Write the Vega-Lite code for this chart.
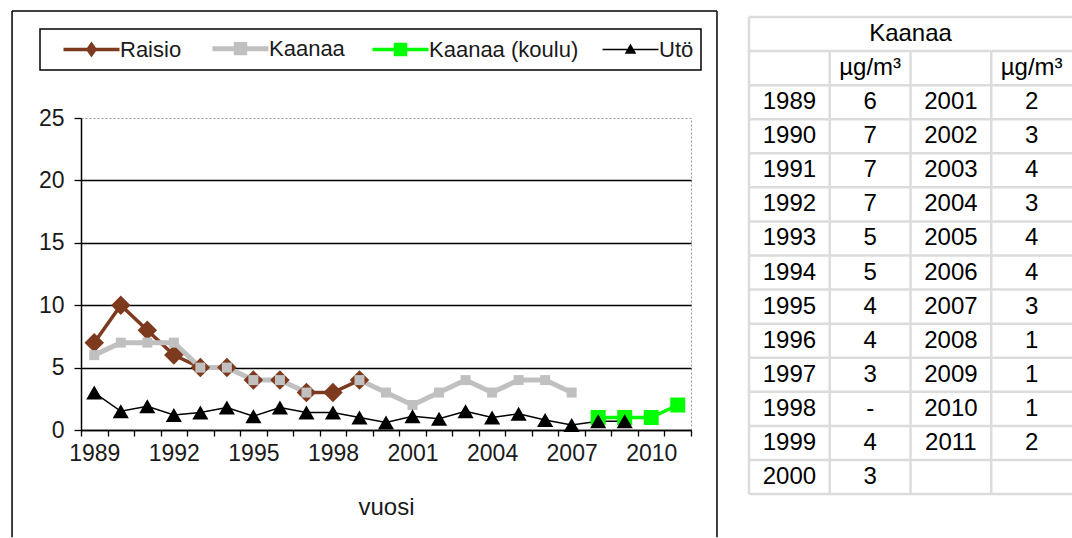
{
  "$schema": "https://vega.github.io/schema/vega-lite/v6.json",
  "padding": {"left": 10, "top": 9, "right": 0, "bottom": 0},
  "background": "white",
  "spacing": 28,
  "config": {
    "font": "Liberation Sans",
    "view": {"stroke": null}
  },
  "datasets": {
    "series": [
      {"year": 1989, "series": "Raisio", "value": 7},
      {"year": 1990, "series": "Raisio", "value": 10},
      {"year": 1991, "series": "Raisio", "value": 8},
      {"year": 1992, "series": "Raisio", "value": 6},
      {"year": 1993, "series": "Raisio", "value": 5},
      {"year": 1994, "series": "Raisio", "value": 5},
      {"year": 1995, "series": "Raisio", "value": 4},
      {"year": 1996, "series": "Raisio", "value": 4},
      {"year": 1997, "series": "Raisio", "value": 3},
      {"year": 1998, "series": "Raisio", "value": 3},
      {"year": 1999, "series": "Raisio", "value": 4},
      {"year": 1989, "series": "Kaanaa", "value": 6},
      {"year": 1990, "series": "Kaanaa", "value": 7},
      {"year": 1991, "series": "Kaanaa", "value": 7},
      {"year": 1992, "series": "Kaanaa", "value": 7},
      {"year": 1993, "series": "Kaanaa", "value": 5},
      {"year": 1994, "series": "Kaanaa", "value": 5},
      {"year": 1995, "series": "Kaanaa", "value": 4},
      {"year": 1996, "series": "Kaanaa", "value": 4},
      {"year": 1997, "series": "Kaanaa", "value": 3},
      {"year": 1998, "series": "Kaanaa", "value": null},
      {"year": 1999, "series": "Kaanaa", "value": 4},
      {"year": 2000, "series": "Kaanaa", "value": 3},
      {"year": 2001, "series": "Kaanaa", "value": 2},
      {"year": 2002, "series": "Kaanaa", "value": 3},
      {"year": 2003, "series": "Kaanaa", "value": 4},
      {"year": 2004, "series": "Kaanaa", "value": 3},
      {"year": 2005, "series": "Kaanaa", "value": 4},
      {"year": 2006, "series": "Kaanaa", "value": 4},
      {"year": 2007, "series": "Kaanaa", "value": 3},
      {"year": 2008, "series": "Kaanaa (koulu)", "value": 1},
      {"year": 2009, "series": "Kaanaa (koulu)", "value": 1},
      {"year": 2010, "series": "Kaanaa (koulu)", "value": 1},
      {"year": 2011, "series": "Kaanaa (koulu)", "value": 2},
      {"year": 1989, "series": "Utö", "value": 3.0},
      {"year": 1990, "series": "Utö", "value": 1.5},
      {"year": 1991, "series": "Utö", "value": 1.9},
      {"year": 1992, "series": "Utö", "value": 1.2},
      {"year": 1993, "series": "Utö", "value": 1.4},
      {"year": 1994, "series": "Utö", "value": 1.8},
      {"year": 1995, "series": "Utö", "value": 1.1},
      {"year": 1996, "series": "Utö", "value": 1.8},
      {"year": 1997, "series": "Utö", "value": 1.4},
      {"year": 1998, "series": "Utö", "value": 1.4},
      {"year": 1999, "series": "Utö", "value": 1.0},
      {"year": 2000, "series": "Utö", "value": 0.6},
      {"year": 2001, "series": "Utö", "value": 1.1},
      {"year": 2002, "series": "Utö", "value": 0.9},
      {"year": 2003, "series": "Utö", "value": 1.5},
      {"year": 2004, "series": "Utö", "value": 1.0},
      {"year": 2005, "series": "Utö", "value": 1.3},
      {"year": 2006, "series": "Utö", "value": 0.8},
      {"year": 2007, "series": "Utö", "value": 0.4},
      {"year": 2008, "series": "Utö", "value": 0.7},
      {"year": 2009, "series": "Utö", "value": 0.7}
    ],
    "frame": [
      {"x": 1985.9, "x2": 1985.9, "y": 33.57, "y2": -8.6},
      {"x": 1985.9, "x2": 2012.48, "y": 33.57, "y2": 33.57},
      {"x": 2012.48, "x2": 2012.48, "y": 33.57, "y2": -8.6}
    ],
    "vlines": [
      {"c": -0.5, "r0": -0.5, "r1": 13.5},
      {"c": 0.5, "r0": 0.5, "r1": 13.5},
      {"c": 1.5, "r0": 0.5, "r1": 13.5},
      {"c": 2.5, "r0": 0.5, "r1": 13.5}
    ],
    "hlines": [
      {"r": -0.5, "c0": -0.5, "c1": 3.5}, {"r": 0.5, "c0": -0.5, "c1": 3.5},
      {"r": 1.5, "c0": -0.5, "c1": 3.5}, {"r": 2.5, "c0": -0.5, "c1": 3.5},
      {"r": 3.5, "c0": -0.5, "c1": 3.5}, {"r": 4.5, "c0": -0.5, "c1": 3.5},
      {"r": 5.5, "c0": -0.5, "c1": 3.5}, {"r": 6.5, "c0": -0.5, "c1": 3.5},
      {"r": 7.5, "c0": -0.5, "c1": 3.5}, {"r": 8.5, "c0": -0.5, "c1": 3.5},
      {"r": 9.5, "c0": -0.5, "c1": 3.5}, {"r": 10.5, "c0": -0.5, "c1": 3.5},
      {"r": 11.5, "c0": -0.5, "c1": 3.5}, {"r": 12.5, "c0": -0.5, "c1": 3.5},
      {"r": 13.5, "c0": -0.5, "c1": 3.5}
    ],
    "table": [
      {"r": 0, "c": 1.5, "t": "Kaanaa"},
      {"r": 1, "c": 1, "t": "µg/m³"},
      {"r": 1, "c": 3, "t": "µg/m³"},
      {"r": 2, "c": 0, "t": "1989"}, {"r": 2, "c": 1, "t": "6"}, {"r": 2, "c": 2, "t": "2001"}, {"r": 2, "c": 3, "t": "2"},
      {"r": 3, "c": 0, "t": "1990"}, {"r": 3, "c": 1, "t": "7"}, {"r": 3, "c": 2, "t": "2002"}, {"r": 3, "c": 3, "t": "3"},
      {"r": 4, "c": 0, "t": "1991"}, {"r": 4, "c": 1, "t": "7"}, {"r": 4, "c": 2, "t": "2003"}, {"r": 4, "c": 3, "t": "4"},
      {"r": 5, "c": 0, "t": "1992"}, {"r": 5, "c": 1, "t": "7"}, {"r": 5, "c": 2, "t": "2004"}, {"r": 5, "c": 3, "t": "3"},
      {"r": 6, "c": 0, "t": "1993"}, {"r": 6, "c": 1, "t": "5"}, {"r": 6, "c": 2, "t": "2005"}, {"r": 6, "c": 3, "t": "4"},
      {"r": 7, "c": 0, "t": "1994"}, {"r": 7, "c": 1, "t": "5"}, {"r": 7, "c": 2, "t": "2006"}, {"r": 7, "c": 3, "t": "4"},
      {"r": 8, "c": 0, "t": "1995"}, {"r": 8, "c": 1, "t": "4"}, {"r": 8, "c": 2, "t": "2007"}, {"r": 8, "c": 3, "t": "3"},
      {"r": 9, "c": 0, "t": "1996"}, {"r": 9, "c": 1, "t": "4"}, {"r": 9, "c": 2, "t": "2008"}, {"r": 9, "c": 3, "t": "1"},
      {"r": 10, "c": 0, "t": "1997"}, {"r": 10, "c": 1, "t": "3"}, {"r": 10, "c": 2, "t": "2009"}, {"r": 10, "c": 3, "t": "1"},
      {"r": 11, "c": 0, "t": "1998"}, {"r": 11, "c": 1, "t": "-"}, {"r": 11, "c": 2, "t": "2010"}, {"r": 11, "c": 3, "t": "1"},
      {"r": 12, "c": 0, "t": "1999"}, {"r": 12, "c": 1, "t": "4"}, {"r": 12, "c": 2, "t": "2011"}, {"r": 12, "c": 3, "t": "2"},
      {"r": 13, "c": 0, "t": "2000"}, {"r": 13, "c": 1, "t": "3"}
    ]
  },
  "hconcat": [
    {
      "width": 610,
      "height": 312,
      "view": {"stroke": "#9a9a9a", "strokeDash": [2, 2], "strokeWidth": 1},
      "resolve": {"scale": {"x": "independent"}},
      "layer": [
        {
          "data": {"name": "frame"},
          "mark": {"type": "rule", "color": "black", "strokeWidth": 1.5},
          "encoding": {
            "x": {"field": "x", "type": "quantitative", "scale": {"domain": [1988.5, 2011.5], "nice": false, "zero": false}, "axis": null},
            "x2": {"field": "x2"},
            "y": {
              "field": "y", "type": "quantitative",
              "scale": {"domain": [0, 25], "nice": false, "zero": false},
              "axis": {
                "values": [0, 5, 10, 15, 20, 25],
                "grid": true,
                "gridColor": {"condition": {"test": "datum.value === 25", "value": "transparent"}, "value": "black"},
                "gridWidth": 1.5,
                "domainColor": "black", "domainWidth": 1.5,
                "tickColor": "black", "tickSize": 7, "tickWidth": 1.3,
                "labelFontSize": 23, "labelColor": "#1a1a1a", "labelPadding": 10,
                "title": null
              }
            },
            "y2": {"field": "y2"}
          }
        },
        {
          "data": {"name": "series"},
          "mark": {"type": "line", "invalid": "break-paths-show-domains"},
          "encoding": {
            "x": {
              "field": "year", "type": "ordinal",
              "scale": {"type": "band", "domain": [1989,1990,1991,1992,1993,1994,1995,1996,1997,1998,1999,2000,2001,2002,2003,2004,2005,2006,2007,2008,2009,2010,2011], "paddingInner": 0, "paddingOuter": 0},
              "axis": {
                "tickBand": "extent",
                "labelExpr": "(datum.value - 1989) % 3 === 0 ? datum.value : ''",
                "labelAngle": 0, "labelFontSize": 23, "labelColor": "#1a1a1a", "labelPadding": 6,
                "tickSize": 6, "tickColor": "black", "tickWidth": 1.3,
                "domainColor": "black", "domainWidth": 1.5,
                "grid": false,
                "title": "vuosi", "titleFontSize": 24, "titleFontWeight": "normal", "titleColor": "#1a1a1a", "titlePadding": 30
              }
            },
            "y": {"field": "value", "type": "quantitative", "scale": {"domain": [0, 25], "nice": false, "zero": false}},
            "color": {
              "field": "series", "type": "nominal",
              "scale": {"domain": ["Raisio", "Kaanaa", "Kaanaa (koulu)", "Utö"], "range": ["#7D3A1E", "#C0C0C0", "#00FF00", "#000000"]},
              "legend": {
                "orient": "none", "legendX": -41, "legendY": -89,
                "direction": "horizontal", "columns": 4,
                "title": " ", "titleOrient": "left", "titlePadding": 14, "titleFontSize": 21,
                "strokeColor": "black", "padding": 7,
                "symbolSize": 400, "labelFontSize": 22, "labelColor": "#1a1a1a", "labelOffset": 34,
                "columnPadding": 20, "labelLimit": 300,
                "encode": {
                  "legend": {"update": {"strokeWidth": {"value": 1.5}}},
                  "symbols": {
                    "update": {
                      "shape": {"signal": "datum.value === 'Raisio' ? 'M-1,0H4.6M1.8,-0.5L2.15,0L1.8,0.5L1.45,0Z' : datum.value === 'Utö' ? 'M-1,0H4.6M1.8,-0.45L2.25,0.35H1.35Z' : datum.value === 'Kaanaa' ? 'M-1,0H4.6M1.38,-0.42H2.22V0.42H1.38Z' : 'M-1,0H4.6M1.3,-0.5H2.3V0.5H1.3Z'"},
                      "fill": {"signal": "datum.value === 'Raisio' ? '#7D3A1E' : datum.value === 'Kaanaa' ? '#C0C0C0' : datum.value === 'Utö' ? '#000000' : '#00FF00'"},
                      "stroke": {"signal": "datum.value === 'Raisio' ? '#7D3A1E' : datum.value === 'Kaanaa' ? '#C0C0C0' : datum.value === 'Utö' ? '#000000' : '#00FF00'"},
                      "strokeWidth": {"signal": "datum.value === 'Utö' ? 1.5 : datum.value === 'Kaanaa' ? 4 : 3"},
                      "opacity": {"value": 1}
                    }
                  }
                }
              }
            },
            "strokeWidth": {
              "field": "series", "type": "nominal",
              "scale": {"type": "ordinal", "domain": ["Raisio", "Kaanaa", "Kaanaa (koulu)", "Utö"], "range": [3.5, 5, 3.5, 1.5]},
              "legend": null
            }
          }
        },
        {
          "data": {"name": "series"},
          "transform": [{"filter": "datum.series === 'Raisio'"}],
          "mark": {"type": "point", "filled": true, "opacity": 1, "shape": "diamond", "size": 380, "color": "#7D3A1E"},
          "encoding": {
            "x": {"field": "year", "type": "ordinal", "scale": {"type": "band", "domain": [1989,1990,1991,1992,1993,1994,1995,1996,1997,1998,1999,2000,2001,2002,2003,2004,2005,2006,2007,2008,2009,2010,2011], "paddingInner": 0, "paddingOuter": 0}, "axis": null},
            "y": {"field": "value", "type": "quantitative", "scale": {"domain": [0, 25], "nice": false, "zero": false}}
          }
        },
        {
          "data": {"name": "series"},
          "transform": [{"filter": "datum.series === 'Kaanaa'"}],
          "mark": {"type": "point", "filled": true, "opacity": 1, "shape": "square", "size": 100, "color": "#C0C0C0"},
          "encoding": {
            "x": {"field": "year", "type": "ordinal", "scale": {"type": "band", "domain": [1989,1990,1991,1992,1993,1994,1995,1996,1997,1998,1999,2000,2001,2002,2003,2004,2005,2006,2007,2008,2009,2010,2011], "paddingInner": 0, "paddingOuter": 0}, "axis": null},
            "y": {"field": "value", "type": "quantitative", "scale": {"domain": [0, 25], "nice": false, "zero": false}}
          }
        },
        {
          "data": {"name": "series"},
          "transform": [{"filter": "datum.series === 'Kaanaa (koulu)'"}],
          "mark": {"type": "point", "filled": true, "opacity": 1, "shape": "square", "size": 225, "color": "#00FF00"},
          "encoding": {
            "x": {"field": "year", "type": "ordinal", "scale": {"type": "band", "domain": [1989,1990,1991,1992,1993,1994,1995,1996,1997,1998,1999,2000,2001,2002,2003,2004,2005,2006,2007,2008,2009,2010,2011], "paddingInner": 0, "paddingOuter": 0}, "axis": null},
            "y": {"field": "value", "type": "quantitative", "scale": {"domain": [0, 25], "nice": false, "zero": false}}
          }
        },
        {
          "data": {"name": "series"},
          "transform": [{"filter": "datum.series === 'Utö'"}],
          "mark": {"type": "point", "filled": true, "opacity": 1, "shape": "triangle-up", "size": 260, "color": "#000000"},
          "encoding": {
            "x": {"field": "year", "type": "ordinal", "scale": {"type": "band", "domain": [1989,1990,1991,1992,1993,1994,1995,1996,1997,1998,1999,2000,2001,2002,2003,2004,2005,2006,2007,2008,2009,2010,2011], "paddingInner": 0, "paddingOuter": 0}, "axis": null},
            "y": {"field": "value", "type": "quantitative", "scale": {"domain": [0, 25], "nice": false, "zero": false}}
          }
        }
      ]
    },
    {
      "width": 323,
      "height": 312,
      "layer": [
        {
          "data": {"name": "hlines"},
          "mark": {"type": "rule", "color": "#dcdcdc", "strokeWidth": 2.5},
          "encoding": {
            "x": {"field": "c0", "type": "quantitative", "scale": {"domain": [-0.5, 3.5], "nice": false, "zero": false}, "axis": null},
            "x2": {"field": "c1"},
            "y": {"field": "r", "type": "quantitative", "scale": {"domain": [2.464, 11.621], "nice": false, "zero": false, "reverse": true}, "axis": null}
          }
        },
        {
          "data": {"name": "vlines"},
          "mark": {"type": "rule", "color": "#dcdcdc", "strokeWidth": 2.5},
          "encoding": {
            "x": {"field": "c", "type": "quantitative", "scale": {"domain": [-0.5, 3.5], "nice": false, "zero": false}, "axis": null},
            "y": {"field": "r0", "type": "quantitative", "scale": {"domain": [2.464, 11.621], "nice": false, "zero": false, "reverse": true}, "axis": null},
            "y2": {"field": "r1"}
          }
        },
        {
          "data": {"name": "table"},
          "mark": {"type": "text", "fontSize": 24, "color": "black"},
          "encoding": {
            "x": {"field": "c", "type": "quantitative", "scale": {"domain": [-0.5, 3.5], "nice": false, "zero": false}, "axis": null},
            "y": {"field": "r", "type": "quantitative", "scale": {"domain": [2.464, 11.621], "nice": false, "zero": false, "reverse": true}, "axis": null},
            "text": {"field": "t"}
          }
        }
      ]
    }
  ]
}
